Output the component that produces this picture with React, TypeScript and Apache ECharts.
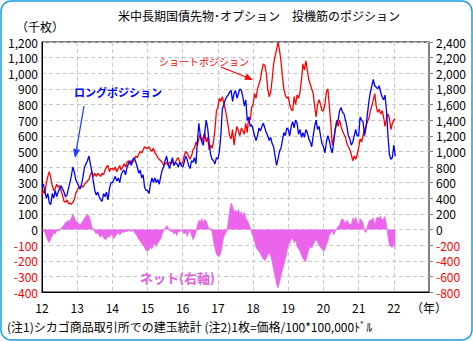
import React, { useEffect, useRef } from 'react';
import * as echarts from 'echarts';

// Semi-monthly observations starting January 2012 (thousand contracts)
const START_YEAR = 2012;
const STEPS_PER_YEAR = 24;

const long2012 = [280,290,240,200,230,170,160,230,200,250,210,240,260,280,260,240,210,220,260,300,340,400,370,320];
const long2013 = [300,280,260,290,340,400,420,440,470,420,370,310,250,220,240,210,190,180,230,210,240,190,260,300];
const long2014 = [300,320,340,310,330,300,350,370,380,350,400,420,440,410,450,460,430,400,360,380,330,350,270,250];
const long2015 = [250,230,290,330,300,330,300,320,290,340,380,400,440,470,420,390,430,460,410,430,420,400,430,410];
const long2016 = [400,430,470,450,410,390,440,430,460,420,560,680,600,560,540,620,700,650,560,480,450,440,420,460];
const long2017 = [450,500,600,770,800,830,850,860,880,890,820,870,890,840,870,900,890,850,790,830,700,720,660,670];
const long2018 = [640,600,570,600,650,630,660,680,650,620,600,570,590,550,530,470,410,450,500,520,570,620,600,650];
const long2019 = [640,600,660,690,650,700,680,610,640,590,620,590,640,620,580,560,530,600,660,700,640,660,600,550];
const long2020 = [530,490,560,600,570,520,490,560,640,680,700,760,780,750,740,700,660,600,580,540,560,600,640,600];
const long2021 = [600,720,700,690,600,650,740,820,880,920,960,920,910,900,920,880,850,830,860,760,600,480,450,460];
const long2022 = [540,470];

const short2012 = [220,250,230,300,340,370,330,280,250,260,290,270,280,250,220,180,175,190,165,170,160,175,190,230];
const short2013 = [250,270,260,280,270,290,300,310,320,350,370,340,360,340,360,350,340,360,350,380,400,410,370,390];
const short2014 = [390,380,400,370,390,410,380,400,420,400,430,440,420,440,430,450,470,460,480,500,490,510,530,520];
const short2015 = [520,530,510,500,520,490,480,460,450,440,430,410,420,430,410,430,420,440,410,430,450,460,430,420];
const short2016 = [430,470,500,490,470,450,470,510,520,560,540,580,610,560,590,620,560,590,510,540,520,560,640,760];
const short2017 = [780,840,820,850,810,770,720,660,600,580,640,540,610,660,630,600,650,630,610,680,620,720,700,780];
const short2018 = [800,870,840,900,930,960,1020,1060,1050,1000,900,850,880,960,1060,1110,1150,1200,1150,1080,980,900,860,840];
const short2019 = [850,800,770,760,850,800,860,840,880,960,1060,1020,1080,1020,960,930,900,870,790,720,800,830,800,760];
const short2020 = [760,800,880,900,790,680,540,580,640,700,660,700,660,630,610,590,550,530,510,480,440,470,450,480];
const short2021 = [520,580,560,600,640,660,690,710,760,790,830,870,790,750,770,740,760,720,660,710,740,710,640,680];
const short2022 = [700,710];

const net2012 = [0,-20,-40,-100,-140,-170,-120,-80,-40,-60,-20,-10,-20,20,40,60,90,100,120,110,150,200,160,110];
const net2013 = [100,80,60,90,110,150,170,190,180,120,40,0,-30,-60,-40,-80,-100,-70,-110,-130,-120,-90,-100,-60];
const net2014 = [-80,-120,-90,-60,-40,-70,-50,-30,-40,-20,-30,-10,-20,-30,-10,-40,-60,-90,-130,-150,-180,-200,-230,-270];
const net2015 = [-280,-260,-230,-250,-200,-180,-220,-170,-150,-120,-60,-20,20,50,30,-10,-30,-20,-60,-40,-80,-20,-30,-10];
const net2016 = [-20,-60,-30,-90,-40,-10,-80,-130,-100,-40,60,120,100,140,90,130,110,60,0,20,-40,-150,-250,-320];
const net2017 = [-340,-350,-300,-200,-100,-60,-20,100,250,340,300,230,250,220,260,200,230,180,220,150,120,80,30,-50];
const net2018 = [-90,-150,-230,-260,-280,-310,-350,-380,-400,-370,-330,-300,-340,-420,-520,-600,-700,-750,-680,-600,-520,-450,-380,-300];
const net2019 = [-200,-180,-130,-110,-170,-140,-220,-250,-280,-330,-370,-400,-410,-330,-260,-220,-240,-200,-160,-120,-170,-200,-230,-250];
const net2020 = [-280,-260,-200,-150,-80,-40,-20,-75,-30,10,40,60,120,140,110,80,120,90,60,70,150,110,160,100];
const net2021 = [60,140,120,90,-20,-40,50,110,120,130,150,60,140,160,150,170,120,140,170,60,-100,-200,-220,-230];
const net2022 = [-180,-260];

const longPositions = [...long2012,...long2013,...long2014,...long2015,...long2016,...long2017,...long2018,...long2019,...long2020,...long2021,...long2022];
const shortPositions = [...short2012,...short2013,...short2014,...short2015,...short2016,...short2017,...short2018,...short2019,...short2020,...short2021,...short2022];
const netPositions = [...net2012,...net2013,...net2014,...net2015,...net2016,...net2017,...net2018,...net2019,...net2020,...net2021,...net2022];

const X_MIN = 2012;
const X_MAX = 2023;
const LEFT_MIN = -400, LEFT_MAX = 1200, LEFT_STEP = 100;
const RIGHT_MIN = -800, RIGHT_MAX = 2400, RIGHT_STEP = 200;

const TITLE = '米中長期国債先物･オプション　投機筋のポジション';
const UNIT = '（千枚）';
const YEAR_UNIT = '（年）';
const FOOTNOTE = '(注1)シカゴ商品取引所での建玉統計 (注2)1枚=価格/100*100,000ﾄﾞﾙ';
const LONG_LABEL = 'ロングポジション';
const SHORT_LABEL = 'ショートポジション';
const NET_LABEL = 'ネット(右軸)';

const FONT = '"Noto Sans CJK JP", "Noto Sans", sans-serif';

function toPairs(values: number[]) {
  return values.map((v, i) => [START_YEAR + i / STEPS_PER_YEAR, v]);
}

const fmt = (v: number) => v.toLocaleString('en-US');
const labelColor = (v: any) => (Number(v) < 0 ? '#ff0000' : '#000000');

export default function App() {
  const ref = useRef<HTMLDivElement>(null);
  useEffect(() => {
    if (!ref.current) return;
    const chart = echarts.init(ref.current, undefined, { renderer: 'svg' });
    const grid = { left: 42, right: 44, top: 42, bottom: 49 };
    chart.setOption({
      animation: false,
      backgroundColor: '#ffffff',
      textStyle: { fontFamily: FONT },
      grid: { ...grid, show: true, borderColor: '#000', borderWidth: 1, backgroundColor: 'transparent' },
      xAxis: {
        type: 'value',
        min: X_MIN,
        max: X_MAX,
        interval: 1,
        axisLine: { show: true, onZero: false, lineStyle: { color: '#000', width: 1 } },
        axisTick: { show: false },
        axisLabel: {
          show: true,
          margin: 9,
          fontSize: 12,
          color: '#000',
          fontFamily: FONT,
          showMinLabel: true,
          showMaxLabel: true,
          formatter: (v: number) => (v === X_MAX ? YEAR_UNIT : Number.isInteger(v) ? String(v % 100) : ''),
        },
        splitLine: { show: true, lineStyle: { color: '#c8c8c8', type: [4, 3], width: 1 } },
      },
      yAxis: [
        {
          type: 'value',
          min: LEFT_MIN,
          max: LEFT_MAX,
          interval: LEFT_STEP,
          position: 'left',
          axisLine: { show: true, onZero: false, lineStyle: { color: '#000', width: 1 } },
          axisTick: { show: false },
          axisLabel: { fontSize: 12, margin: 4, fontFamily: FONT, formatter: fmt, color: labelColor, showMinLabel: true, showMaxLabel: true },
          splitLine: { show: true, lineStyle: { color: '#c8c8c8', type: [4, 3], width: 1 } },
        },
        {
          type: 'value',
          min: RIGHT_MIN,
          max: RIGHT_MAX,
          interval: RIGHT_STEP,
          position: 'right',
          axisLine: { show: true, onZero: false, lineStyle: { color: '#808080', width: 1 } },
          axisTick: { show: true, inside: false, length: 4, lineStyle: { color: '#808080' } },
          axisLabel: { fontSize: 12, margin: 7, fontFamily: FONT, formatter: fmt, color: labelColor, showMinLabel: true, showMaxLabel: true },
          splitLine: { show: false },
        },
      ],
      series: [
        {
          name: 'ネット',
          type: 'line',
          yAxisIndex: 1,
          data: toPairs(netPositions),
          symbol: 'none',
          lineStyle: { color: '#e070e0', width: 0.6 },
          areaStyle: { color: '#ec64ec', opacity: 1 },
          z: 2,
        },
        {
          name: 'ショート',
          type: 'line',
          data: toPairs(shortPositions),
          symbol: 'none',
          lineStyle: { color: '#ff0000', width: 1.3 },
          z: 3,
        },
        {
          name: 'ロング',
          type: 'line',
          data: toPairs(longPositions),
          symbol: 'none',
          lineStyle: { color: '#0000ff', width: 1.3 },
          z: 4,
        },
      ],
      graphic: [
        {
          type: 'rect',
          shape: { x: 1, y: 1, width: 471, height: 339, r: 10 },
          style: { fill: 'none', stroke: '#1c9ee0', lineWidth: 1.5 },
          silent: true,
          z: 100,
        },
        {
          type: 'text',
          x: 259, y: 15,
          style: { text: TITLE, fontSize: 12, fontFamily: FONT, fill: '#000', textAlign: 'center', textVerticalAlign: 'middle' },
        },
        {
          type: 'text',
          x: 40, y: 26,
          style: { text: UNIT, fontSize: 12, fontFamily: FONT, fill: '#000', textAlign: 'center', textVerticalAlign: 'middle' },
        },
        {
          type: 'text',
          x: 7, y: 326,
          style: { text: FOOTNOTE, fontSize: 12, fontFamily: FONT, fill: '#000', textAlign: 'left', textVerticalAlign: 'middle' },
        },
        {
          type: 'text',
          x: 74, y: 92,
          style: { text: LONG_LABEL, fontSize: 11, fontWeight: 'bold', fontFamily: FONT, fill: '#0000ff', textAlign: 'left', textVerticalAlign: 'middle' },
          z: 50,
        },
        {
          type: 'line',
          shape: { x1: 84, y1: 106, x2: 76.5, y2: 149 },
          style: { stroke: '#2040ff', lineWidth: 1.3 },
          z: 50,
        },
        {
          type: 'polygon',
          shape: { points: [[75, 158], [80, 149.7], [73, 148.5]] },
          style: { fill: '#2040ff' },
          z: 50,
        },
        {
          type: 'text',
          x: 159, y: 61,
          style: { text: SHORT_LABEL, fontSize: 10, fontFamily: FONT, fill: '#ff0000', textAlign: 'left', textVerticalAlign: 'middle' },
          z: 50,
        },
        {
          type: 'line',
          shape: { x1: 221, y1: 67, x2: 246, y2: 77 },
          style: { stroke: '#ff0000', lineWidth: 1.2 },
          z: 50,
        },
        {
          type: 'polygon',
          shape: { points: [[253, 80], [244.3, 79.8], [246.8, 73.8]] },
          style: { fill: '#ff0000' },
          z: 50,
        },
        {
          type: 'text',
          x: 140, y: 277,
          style: { text: NET_LABEL, fontSize: 13, fontWeight: 'bold', fontFamily: FONT, fill: '#e060e0', textAlign: 'left', textVerticalAlign: 'middle' },
          z: 50,
        },
      ],
    });
    return () => chart.dispose();
  }, []);
  return (
    <div
      ref={ref}
      style={{ position: 'fixed', left: 0, top: 0, width: 473, height: 341, background: '#fff' }}
    />
  );
}
